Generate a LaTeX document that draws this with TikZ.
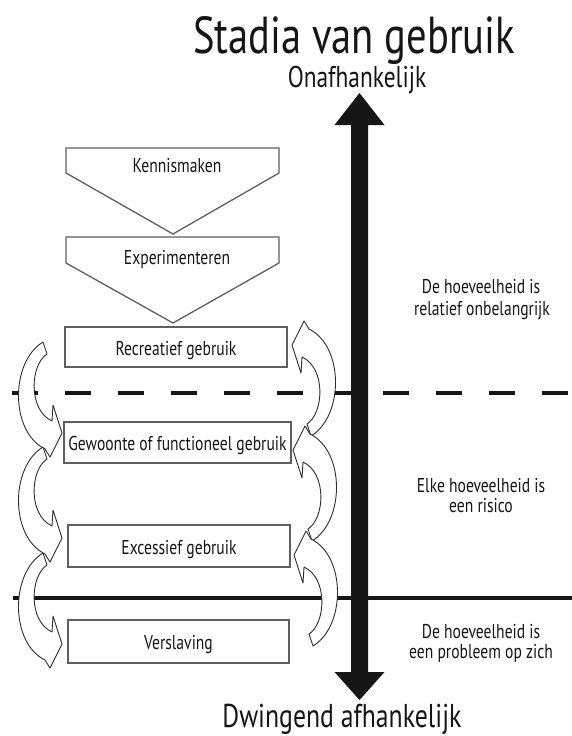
\documentclass[tikz,border=0pt]{standalone}
\usepackage{fontspec}
\setmainfont[FakeStretch=0.78]{PT Sans}
\definecolor{boxgray}{RGB}{95,95,95}
\definecolor{arrowgray}{RGB}{45,45,45}
\definecolor{inkblack}{RGB}{22,22,22}
\begin{document}
\begin{tikzpicture}[x=1pt,y=-1pt,
  stagebox/.style={draw=boxgray, line width=1.3pt, fill=white, inner sep=0pt,
    text height=18pt, text depth=2pt, font=\fontsize{20}{22}\selectfont, text=inkblack},
  stageshape/.style={draw=boxgray, line width=1.3pt, fill=white, line join=miter},
  boxtext/.style={anchor=base, inner sep=0pt, font=\fontsize{20}{22}\selectfont, text=inkblack},
  sidetext/.style={anchor=base, inner sep=0pt, font=\fontsize{20}{22}\selectfont, text=inkblack},
  curvarrow/.style={draw=arrowgray, line width=0.9pt, fill=white, line join=round},
  leftarr/.pic={
    \filldraw[curvarrow] (43,342) -- (47,354)
      .. controls (30,365) and (28,410) .. (52,421)
      -- (53,405) -- (62,433) -- (50,457) -- (45,449)
      .. controls (10,432) and (10,362) .. (43,342) -- cycle;
  },
  rightarr/.pic={
    \filldraw[curvarrow] (311,436) -- (307,424)
      .. controls (324,413) and (326,368) .. (302,357)
      -- (301,373) -- (292,345) -- (304,321) -- (309,329)
      .. controls (344,346) and (344,416) .. (311,436) -- cycle;
  }
]
\useasboundingbox[fill=white] (0,0) rectangle (572,736);

% separator lines
\coordinate (dl) at (12,393);
\coordinate (dr) at (572,393);
\coordinate (sl) at (13,598);
\coordinate (sr) at (572,598);
\draw[inkblack, line width=3.6pt, dash pattern=on 26pt off 27pt] (dl) -- (dr);
\draw[inkblack, line width=3.2pt] (sl) -- (sr);

% title and axis labels
\node[anchor=base, inner sep=0pt, font=\fontsize{52}{56}\selectfont, text=inkblack] (title) at (354,53) {Stadia van gebruik};
\node[anchor=base, inner sep=0pt, font=\fontsize{30}{32}\selectfont, text=inkblack] (onaf) at (357,87) {Onafhankelijk};
\node[anchor=base, inner sep=0pt, font=\fontsize{33}{35}\selectfont, text=inkblack] (dwing) at (342,727) {Dwingend afhankelijk};

% big double arrow
\coordinate (topt) at (359.5,93);
\coordinate (bott) at (359.5,700);
\fill[inkblack] (topt) -- ++(25,32) -- ++(-16.5,0) -- ++(0,547) -- ++(16.5,0)
  -- (bott) -- ++(-25,-28) -- ++(16.5,0) -- ++(0,-547) -- ++(-16.5,0) -- cycle;

% entry stages (pentagon arrows)
\filldraw[stageshape] (66,148) -- (279,148) -- (279,173) -- (173,234) -- (66,173) -- cycle;
\node[boxtext] (ken) at (177,172) {Kennismaken};
\filldraw[stageshape] (66,237) -- (279,237) -- (279,263) -- (173,323) -- (66,263) -- cycle;
\node[boxtext] (exp) at (177,264) {Experimenteren};

% stage boxes
\node[stagebox, minimum width=222pt, minimum height=40pt] (rec) at (176,347) {Recreatief gebruik};
\node[stagebox, minimum width=227pt, minimum height=41pt] (gew) at (177.5,442.5) {Gewoonte of functioneel gebruik};
\node[stagebox, minimum width=222pt, minimum height=42pt] (exc) at (179,546) {Excessief gebruik};
\node[stagebox, minimum width=221pt, minimum height=43pt] (ver) at (178.5,641.5) {Verslaving};

% curved arrows, left (downwards)
\pic at (0,0) {leftarr};
\pic at (0,105) {leftarr};
\pic at (0,211) {leftarr};
% curved arrows, right (upwards)
\pic at (0,0) {rightarr};
\pic at (1,105) {rightarr};
\pic at (2,210) {rightarr};

% right-hand texts
\node[sidetext] (r1a) at (481,293) {De hoeveelheid is};
\node[sidetext] (r1b) at (482,315) {relatief onbelangrijk};
\node[sidetext] (r2a) at (481,492) {Elke hoeveelheid is};
\node[sidetext] (r2b) at (481,512) {een risico};
\node[sidetext] (r3a) at (481,638) {De hoeveelheid is};
\node[sidetext] (r3b) at (481,658) {een probleem op zich};
\end{tikzpicture}
\end{document}
